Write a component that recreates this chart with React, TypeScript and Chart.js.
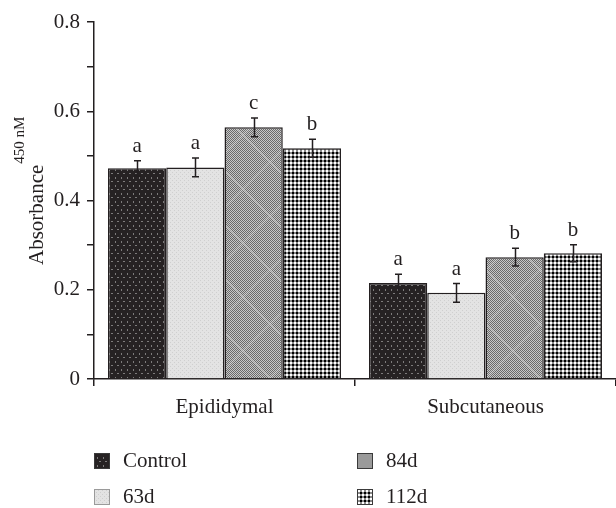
import React, { useEffect, useRef } from "react";
import { Chart, registerables } from "chart.js";

Chart.register(...registerables);

// ---------- data ----------
const categories = ["Epididymal", "Subcutaneous"];
const seriesNames = ["Control", "63d", "84d", "112d"];
const controlValues = [0.472, 0.215];
const d63Values = [0.474, 0.193];
const d84Values = [0.564, 0.273];
const d112Values = [0.517, 0.282];
const controlErr = [0.017, 0.02];
const d63Err = [0.021, 0.021];
const d84Err = [0.021, 0.02];
const d112Err = [0.02, 0.019];
const controlLetters = ["a", "a"];
const d63Letters = ["a", "a"];
const d84Letters = ["c", "b"];
const d112Letters = ["b", "b"];
const yMin = 0;
const yMax = 0.8;
const yStep = 0.1;

const FONT = "'Liberation Serif', 'Times New Roman', serif";
const INK = "#231f20";
const FS = 21;

function makeTile(w: number, h: number, draw: (c: CanvasRenderingContext2D) => void): CanvasPattern {
  const cv = document.createElement("canvas");
  cv.width = w;
  cv.height = h;
  const c = cv.getContext("2d") as CanvasRenderingContext2D;
  draw(c);
  const main = document.createElement("canvas").getContext("2d") as CanvasRenderingContext2D;
  return main.createPattern(cv, "repeat") as CanvasPattern;
}

function makePatterns() {
  const control = makeTile(6, 8, (c) => {
    c.fillStyle = "#262223";
    c.fillRect(0, 0, 6, 8);
    c.fillStyle = "#7d7b7b";
    c.fillRect(1, 1, 1, 2);
    c.fillRect(3, 5, 2, 1);
  });
  const d63 = makeTile(4, 4, (c) => {
    c.fillStyle = "#e3e3e3";
    c.fillRect(0, 0, 4, 4);
    c.fillStyle = "#cfcfcf";
    c.fillRect(0, 0, 1, 1);
    c.fillRect(2, 2, 1, 1);
  });
  const d84 = makeTile(54, 54, (c) => {
    for (let y = 0; y < 54; y++) {
      for (let x = 0; x < 54; x++) {
        c.fillStyle = (x + y) % 2 === 0 ? "#6a6a6a" : "#c8c8c8";
        c.fillRect(x, y, 1, 1);
      }
    }
    c.strokeStyle = "rgba(225,225,225,0.45)";
    c.lineWidth = 1.2;
    c.beginPath();
    c.moveTo(-2, -2);
    c.lineTo(56, 56);
    c.moveTo(56, -2);
    c.lineTo(-2, 56);
    c.stroke();
  });
  const d112 = makeTile(4, 4, (c) => {
    c.fillStyle = "#ffffff";
    c.fillRect(0, 0, 4, 4);
    c.fillStyle = "#8a8a8a";
    c.fillRect(0, 0, 4, 2);
    c.fillRect(0, 0, 2, 4);
    c.fillStyle = "#000000";
    c.fillRect(0, 0, 2, 2);
  });
  return [control, d63, d84, d112];
}

export default function App() {
  const ref = useRef<HTMLCanvasElement | null>(null);

  useEffect(() => {
    document.body.style.margin = "0";
    const canvas = ref.current;
    if (!canvas) return;
    const patterns = makePatterns();
    const values = [controlValues, d63Values, d84Values, d112Values];
    const errors = [controlErr, d63Err, d84Err, d112Err];
    const letters = [controlLetters, d63Letters, d84Letters, d112Letters];

    const overlay = {
      id: "overlay",
      afterDatasetsDraw(chart: any) {
        const ctx = chart.ctx as CanvasRenderingContext2D;
        const ys = chart.scales.y;
        ctx.save();
        ctx.strokeStyle = INK;
        ctx.fillStyle = INK;
        ctx.lineWidth = 1.5;
        ctx.font = `${FS}px ${FONT}`;
        ctx.textAlign = "center";
        ctx.textBaseline = "alphabetic";
        values.forEach((vals, i) => {
          const meta = chart.getDatasetMeta(i);
          vals.forEach((v, j) => {
            const bar = meta.data[j];
            const x = Math.round(bar.x) + 0.5;
            const top = ys.getPixelForValue(v + errors[i][j]);
            const bot = ys.getPixelForValue(v - errors[i][j]);
            ctx.beginPath();
            ctx.moveTo(x, top);
            ctx.lineTo(x, bot);
            ctx.moveTo(x - 3.5, top);
            ctx.lineTo(x + 3.5, top);
            ctx.moveTo(x - 3.5, bot);
            ctx.lineTo(x + 3.5, bot);
            ctx.stroke();
            ctx.fillText(letters[i][j], bar.x, top - 9);
          });
        });
        ctx.restore();
      },
      afterDraw(chart: any) {
        const ctx = chart.ctx as CanvasRenderingContext2D;
        const area = chart.chartArea;
        ctx.save();
        // y title with superscript
        ctx.fillStyle = INK;
        ctx.translate(43, area.top + 243);
        ctx.rotate(-Math.PI / 2);
        ctx.textAlign = "left";
        ctx.textBaseline = "alphabetic";
        ctx.font = `${FS}px ${FONT}`;
        const main = "Absorbance";
        ctx.fillText(main, 0, 0);
        const w = ctx.measureText(main).width;
        ctx.font = `15px ${FONT}`;
        ctx.fillText("450 nM", w + 1, -19);
        ctx.restore();

        // legend
        ctx.save();
        ctx.font = `${FS}px ${FONT}`;
        ctx.textAlign = "left";
        ctx.textBaseline = "alphabetic";
        const colX = [area.left, area.left + 263];
        const rowY = [area.bottom + 74, area.bottom + 110];
        [0, 1, 2, 3].forEach((k) => {
          const col = k < 2 ? 0 : 1;
          const row = k % 2;
          const sx = colX[col];
          const sy = rowY[row];
          ctx.fillStyle = (k === 2 ? "#9a9a9a" : patterns[k]) as any;
          ctx.fillRect(sx, sy, 16, 16);
          ctx.strokeStyle = k === 1 ? "#9a9a9a" : "#3a3a3a";
          ctx.lineWidth = 1;
          ctx.strokeRect(sx + 0.5, sy + 0.5, 15, 15);
          ctx.fillStyle = INK;
          ctx.fillText(seriesNames[k], sx + 29, sy + 14);
        });
        ctx.restore();
      },
    };

    const chart = new Chart(canvas, {
      type: "bar",
      data: {
        labels: categories,
        datasets: values.map((vals, i) => ({
          label: seriesNames[i],
          data: vals,
          backgroundColor: patterns[i] as any,
          borderColor: INK,
          borderWidth: 1.5,
          borderSkipped: "bottom",
          categoryPercentage: 0.893,
          barPercentage: 1.0,
        })),
      },
      options: {
        animation: false,
        responsive: false,
        maintainAspectRatio: false,
        events: [],
        layout: { padding: { top: 22, left: 0, right: 0, bottom: 0 } },
        plugins: {
          legend: { display: false },
          tooltip: { enabled: false },
          title: { display: false },
        },
        scales: {
          x: {
            type: "category",
            offset: true,
            grid: {
              display: true,
              drawOnChartArea: false,
              drawTicks: true,
              tickLength: 7,
              color: INK,
              lineWidth: 1.5,
              offset: true,
            },
            border: { display: true, color: INK, width: 1.5 },
            ticks: {
              color: INK,
              font: { family: FONT, size: FS },
              padding: 9,
              maxRotation: 0,
            },
            afterFit: (scale: any) => {
              scale.height = 129;
            },
          },
          y: {
            type: "linear",
            min: yMin,
            max: yMax,
            grid: {
              display: true,
              drawOnChartArea: false,
              drawTicks: true,
              tickLength: 7,
              color: INK,
              lineWidth: 1.5,
            },
            border: { display: true, color: INK, width: 1.5 },
            ticks: {
              stepSize: yStep,
              color: INK,
              font: { family: FONT, size: FS },
              padding: 7,
              callback: (v: any) => {
                const n = Math.round(Number(v) * 10);
                if (n % 2 !== 0) return "";
                return n === 0 ? "0" : (n / 10).toFixed(1);
              },
            },
            afterFit: (scale: any) => {
              scale.width = 94;
            },
          },
        },
      },
      plugins: [overlay],
    } as any);

    return () => {
      chart.destroy();
    };
  }, []);

  return (
    <div style={{ width: 616, height: 508, background: "#ffffff" }}>
      <canvas ref={ref} width={616} height={508} style={{ display: "block" }} />
    </div>
  );
}
